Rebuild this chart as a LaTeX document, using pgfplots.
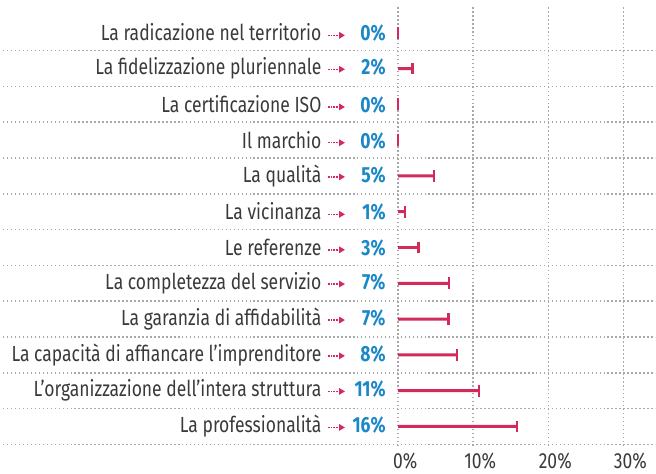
\documentclass[border=0pt]{standalone}
\usepackage{fontspec}
\setmainfont{Fira Sans}[FakeStretch=0.8]
\usepackage{xcolor}
\usepackage{pgfplots}
\pgfplotsset{compat=1.18}
\usepackage{pgfplotstable}
\usetikzlibrary{arrows.meta}

\definecolor{crimson}{HTML}{D42A5B}
\definecolor{pblue}{HTML}{1B87C9}
\definecolor{txtgray}{HTML}{3A3A3A}
\definecolor{gridgray}{HTML}{A8A8A8}

% y = row (0 = bottom), val = share in %
\pgfplotstableread{
y  val
0  15.8
1  10.8
2  7.8
3  6.7
4  6.8
5  2.7
6  0.9
7  4.8
8  0
9  0
10 1.9
11 0
}\shares

\newcommand\labfont{\fontsize{22}{24}\selectfont}
\newsavebox\arrowbox
\newcommand\lab[2]{\labfont{\color{txtgray}#1}\hspace{6pt}\usebox\arrowbox\makebox[40pt][r]{\bfseries\color{pblue}#2\%}}

\begin{document}
\sbox\arrowbox{\tikz[baseline=-5.5pt]\draw[crimson, line width=1.5pt, dash pattern=on 1.5pt off 1.2pt,
  -{Stealth[length=6pt,width=6.5pt,inset=0pt]}] (0,0) -- (17pt,0);}
\begin{tikzpicture}
\begin{axis}[
    width=656pt, height=441.7pt, scale only axis,
    xmin=-52.65, xmax=34.24,
    ymin=-0.55, ymax=11.72,
    axis line style={draw=none},
    major tick length=0pt,
    xtick={0,10,20,30},
    xticklabels={0\%,10\%,20\%,30\%},
    xticklabel style={text=txtgray, xshift=7pt, yshift=-7pt, inner sep=0pt, font=\labfont},
    xmajorgrids,
    ytick={0,...,11},
    yticklabels={
      {\lab{La professionalità}{16}},
      {\lab{L’organizzazione dell’intera struttura}{11}},
      {\lab{La capacità di affiancare l’imprenditore}{8}},
      {\lab{La garanzia di affidabilità}{7}},
      {\lab{La completezza del servizio}{7}},
      {\lab{Le referenze}{3}},
      {\lab{La vicinanza}{1}},
      {\lab{La qualità}{5}},
      {\lab{Il marchio}{0}},
      {\lab{La certificazione ISO}{0}},
      {\lab{La fidelizzazione pluriennale}{2}},
      {\lab{La radicazione nel territorio}{0}},
    },
    yticklabel style={anchor=east, inner sep=0pt, xshift=385pt},
    extra y ticks={-0.5,0.5,...,10.5},
    extra y tick labels={},
    extra y tick style={grid=major},
    grid style={gridgray, line width=1.6pt, dash pattern=on 1.6pt off 2.4pt},
]
\addplot[xbar, bar width=3pt, bar shift=0pt, fill=crimson, draw=none]
  table[x=val, y=y] {\shares};
\addplot[only marks, mark=|, mark size=6pt, crimson, mark options={line width=2.4pt}]
  table[x=val, y=y] {\shares};
\end{axis}
\path (current axis.north west) ++(0,7pt);
\path (current axis.south east) ++(0,-27.5pt);
\end{tikzpicture}
\end{document}
